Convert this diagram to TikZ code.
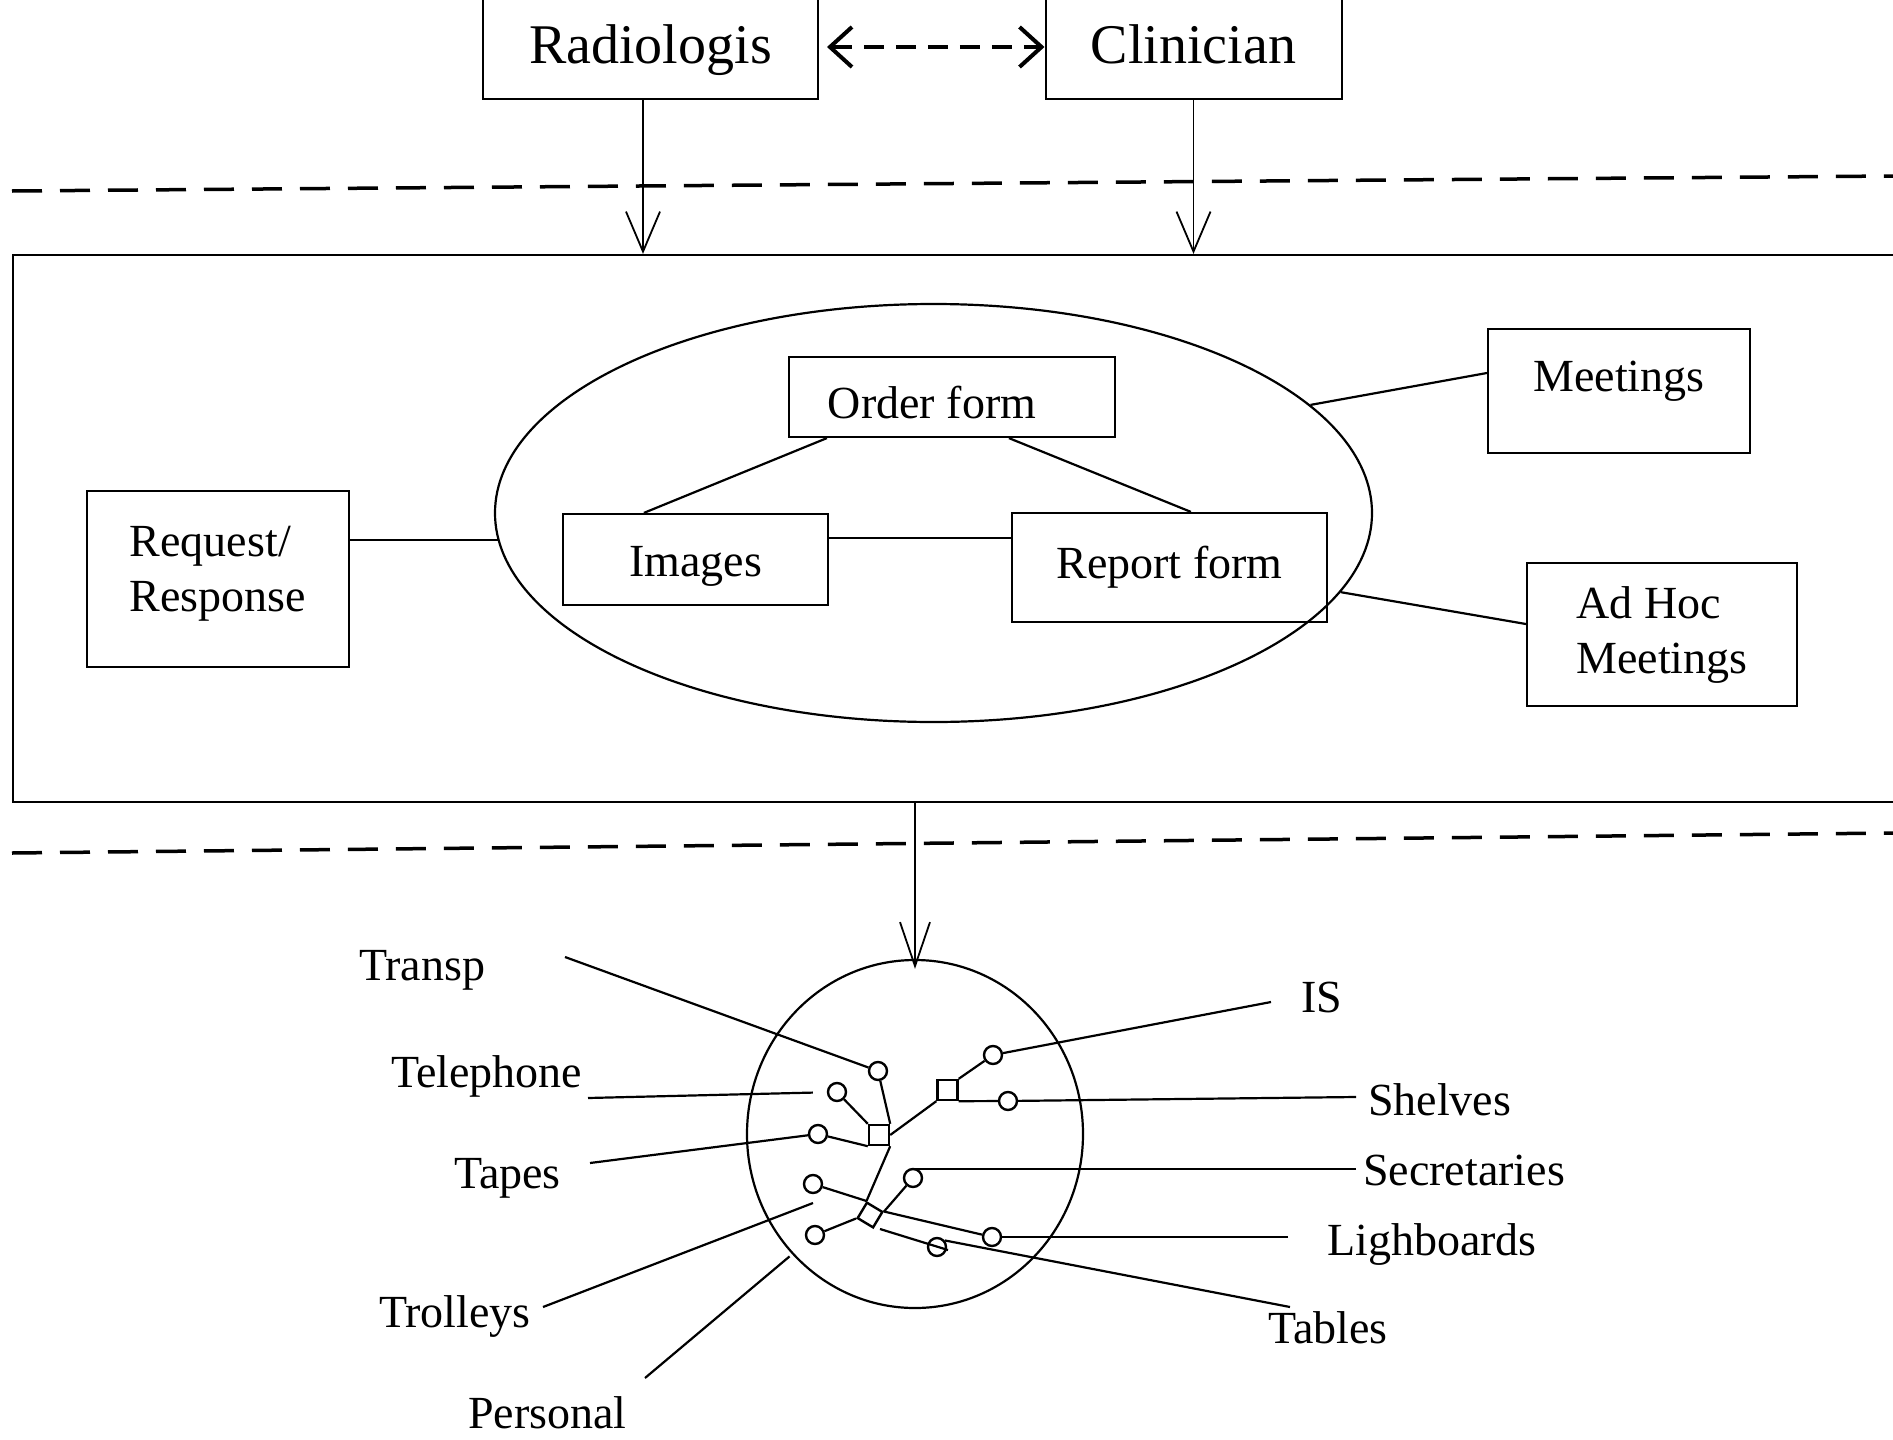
\documentclass[tikz,border=0pt]{standalone}
\usepackage{fontspec}
\setmainfont{Liberation Serif}
\usetikzlibrary{arrows.meta, shapes.geometric}

\newcommand\bigtxt{\fontsize{56}{64}\selectfont}
\newcommand\midtxt{\fontsize{46}{55}\selectfont}

\begin{document}
\begin{tikzpicture}[x=1pt, y=-1pt, line width=2.2pt,
                    >={Straight Barb[length=40pt,width=34pt]}]
  \tikzstyle{box}=[draw, rectangle, inner sep=0pt, font=\midtxt]
  \tikzstyle{top box}=[box, line width=2pt, font=\bigtxt, text height=40pt, text depth=2pt]
  \tikzstyle{dot}=[draw, circle, minimum size=18pt, inner sep=0pt, line width=2.4pt]
  \tikzstyle{hub}=[draw, rectangle, minimum size=20pt, inner sep=0pt, line width=2.4pt]
  \tikzstyle{lbl}=[inner sep=0pt, font=\midtxt, anchor=base west]
  \tikzstyle{divider}=[line width=3.5pt, dash pattern=on 30pt off 18pt]
  \tikzstyle{down}=[->, line width=1.8pt]

  \useasboundingbox (0,0) rectangle (1893,1440);
  \clip (0,0) rectangle (1893,1440);
  \fill[white] (0,0) rectangle (1893,1440);

  % actors
  \node[top box, minimum width=335pt, minimum height=110pt] (rad) at (650.5,44) {Radiologis};
  \node[top box, minimum width=296pt, minimum height=110pt] (cli) [right of=rad, node distance=543pt] {Clinician};

  \draw[<->, line width=4pt, dash pattern=on 20pt off 12pt,
        >={Straight Barb[length=22pt,width=40pt]}]
    ([xshift=8pt,yshift=-3pt]rad.east) -- ([yshift=-3pt]cli.west);

  \draw[divider] (12,191) -- (1893,176);
  \draw[divider] (12,853) -- (1893,833);

  % documents
  \node[box, minimum width=1900pt, minimum height=547pt] (proc) at (963,528.5) {};
  \node[box, ellipse, minimum width=877pt, minimum height=418pt] (docs) at (933.5,513) {};
  \node[box, text height=43pt, minimum width=326pt, minimum height=80pt] (ord) at (952,397) {\hspace*{-40pt}Order form};
  \node[box, text height=43pt, minimum width=265pt, minimum height=91pt] (img) at (695.5,559.5) {Images};
  \node[box, minimum width=315pt, minimum height=109pt] (rep) at (1169.5,567.5) {Report form};
  \node[box, minimum width=262pt, minimum height=176pt] (req) at (218,579)
    {\smash{\begin{tabular}{@{}l@{}}Request/\\Response\end{tabular}}};
  \node[box, text depth=30pt, minimum width=262pt, minimum height=124pt] (mtg) at (1619,391) {Meetings};
  \node[box, align=left, minimum width=270pt, minimum height=143pt] (adhoc) at (1662,634.5) {Ad Hoc\\Meetings};

  \draw[down] ([xshift=-7.5pt]rad.south) -- ([xshift=-7.5pt]rad.south |- proc.north);
  \draw[down] (cli.south) -- (cli.south |- proc.north);

  \draw ([xshift=39pt]ord.south west) -- ([xshift=82pt]img.north west);
  \draw ([xshift=221pt]ord.south west) -- ([xshift=180pt]rep.north west);
  \draw ([yshift=21.5pt]img.east) -- ([yshift=21.5pt]img.east -| rep.west);
  \draw ([yshift=39pt]req.east) -- ([yshift=39pt]req.east -| docs.184);
  \draw ([yshift=18pt]mtg.west) -- (docs.16);
  \draw ([yshift=10.5pt]adhoc.west) -- (docs.-11);

  % resources
  \node[box, ellipse, minimum width=336pt, minimum height=348pt] (ctx) at (915,1134) {};
  \draw[down, >={Straight Barb[length=44pt,width=30pt]}]
    (proc.south -| ctx.north) -- ([yshift=-10pt]ctx.north);

  \node[hub] (hubA) at (879,1135) {};
  \node[hub] (hubB) at (947.5,1090) {};
  \node[hub, minimum size=18pt, rotate=-31] (hubC) at (870,1215) {};

  \node[dot] (cTransp) at (878,1071) {};
  \node[dot] (cTele)   at (837,1092) {};
  \node[dot] (cTapes)  at (818,1134) {};
  \node[dot] (cIS)     at (993,1055) {};
  \node[dot] (cShel)   at (1008,1101) {};
  \node[dot] (cSecr)   at (913,1178) {};
  \node[dot] (cTrol)   at (813,1184) {};
  \node[dot] (cPers)   at (815,1235) {};
  \node[dot] (cLigh)   at (992,1237) {};
  \node[dot] (cTab)    at (937,1247) {};

  \path (cTransp) edge (hubA.north east)
        (cTele) edge (hubA.north west)
        (cTapes) edge (hubA.south west)
        (hubA.east) edge (hubB.south west)
        (hubB.north east) edge (cIS)
        (hubB.south east) edge (cShel)
        (hubA.south east) edge (hubC.north west)
        (hubC.north east) edge (cSecr)
        (cTrol) edge (hubC.north west)
        (hubC.north east) edge (cLigh)
        (cPers) edge (hubC.south west);
  \draw ([shift={(10pt,-14pt)}]hubC.center) -- ([shift={(11pt,-3pt)}]cTab.center);

  \node[lbl] (lTransp) at (358,980)   {Transp};
  \node[lbl] (lTele)   at (390,1087)  {Telephone};
  \node[lbl] (lTapes)  at (453,1188)  {Tapes};
  \node[lbl] (lTrol)   at (378,1327)  {Trolleys};
  \node[lbl] (lPers)   at (467,1428)  {Personal};
  \node[lbl] (lIS)     at (1300,1012) {IS};
  \node[lbl] (lShel)   at (1367,1115) {Shelves};
  \node[lbl] (lSecr)   at (1362,1185) {Secretaries};
  \node[lbl] (lLigh)   at (1326,1255) {Lighboards};
  \node[lbl] (lTab)    at (1267,1343) {Tables};

  \coordinate (transpEnd) at (565,957);
  \coordinate (teleEnd)   at (588,1098);
  \coordinate (tapesEnd)  at (590,1163);
  \coordinate (trolEnd)   at (543,1307);
  \coordinate (persEnd)   at (645,1378);
  \coordinate (isEnd)     at (1271,1002);
  \coordinate (shelEnd)   at (1356,1097);
  \coordinate (secrEnd)   at (1356,1169);
  \coordinate (lighEnd)   at (1288,1237);
  \coordinate (tabEnd)    at (1290,1307);

  \path (transpEnd) edge (cTransp)
        (teleEnd) edge[shorten >=14pt] (cTele)
        (tapesEnd) edge (cTapes)
        (trolEnd) edge ([yshift=-19pt]cTrol.center)
        (persEnd) edge[shorten >=23pt] (cPers)
        (isEnd) edge (cIS)
        (shelEnd) edge (cShel)
        (lighEnd) edge (cLigh)
        (tabEnd) edge (cTab.40);
  \draw (secrEnd) -- (secrEnd -| cSecr.north);
\end{tikzpicture}
\end{document}
